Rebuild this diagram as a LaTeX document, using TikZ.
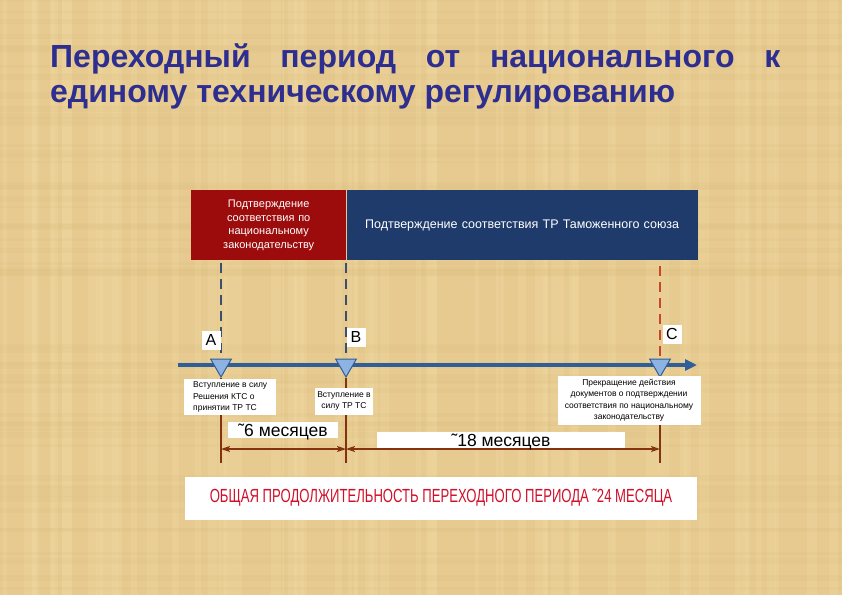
\documentclass[tikz,border=0pt]{standalone}
\usepackage{fontspec}
\setmainfont{Liberation Sans}
\setsansfont{Liberation Sans}
\usepackage{tikz}
\usetikzlibrary{
  shapes.geometric,
  arrows.meta,
  positioning,
  calc
}
\definecolor{bgtan}{HTML}{E6CA8F}
\definecolor{bglight}{HTML}{F0D9A2}
\definecolor{bgdark}{HTML}{D9B979}
\definecolor{titleblue}{HTML}{2E2E90}
\definecolor{natred}{HTML}{9C0C0C}
\definecolor{tcblue}{HTML}{1F3B6B}
\definecolor{lineblue}{HTML}{2F5E99}
\definecolor{markfill}{HTML}{8DB3E2}
\definecolor{guideblue}{HTML}{3A5070}
\definecolor{guidered}{HTML}{C8462B}
\definecolor{dimbrown}{HTML}{83330F}
\definecolor{totalred}{HTML}{D0102A}
\tikzset{
  titleline/.style = {anchor=base west, inner sep=0pt, text=titleblue,
                      font=\fontsize{32}{34}\selectfont\bfseries},
  phase/.style     = {anchor=north west, inner sep=0pt, text=white,
                      align=center, minimum height=70pt},
  guide/.style     = {dash pattern=on 10pt off 6pt, line width=1.6pt},
  timeline/.style  = {-{Triangle[length=12pt, width=11pt]}, line width=3.5pt, lineblue},
  marker/.style    = {regular polygon, regular polygon sides=3,
                      shape border rotate=180, minimum size=24pt, inner sep=0pt,
                      fill=markfill, draw=lineblue, line width=1pt},
  letter/.style    = {fill=white, inner sep=2pt, minimum width=19pt, minimum height=19pt,
                      font=\fontsize{16}{16}\selectfont},
  tick/.style      = {line width=1.3pt, dimbrown},
  span/.style      = {{Stealth[length=9pt, width=6pt, inset=2pt]}-{Stealth[length=9pt, width=6pt, inset=2pt]},
                      line width=1.6pt, dimbrown},
  note/.style      = {fill=white, inner sep=1pt, align=center,
                      font=\fontsize{8.5}{11.5}\selectfont},
  months/.style    = {fill=white, inner sep=2pt, text height=12pt, text depth=0pt,
                      minimum height=16pt, font=\fontsize{17.5}{18}\selectfont},
}

\begin{document}
\begin{tikzpicture}[x=1pt, y=-1pt]

    % background with a faint woven texture
    \fill[bgtan] (0,0) rectangle (842,595);
    \useasboundingbox (0,0) rectangle (842,595);
    \pgfmathsetseed{7}
    \foreach \i in {0,...,70} {
        \pgfmathsetmacro{\sx}{rnd*842}
        \pgfmathsetmacro{\sw}{2+rnd*9}
        \fill[bglight, opacity=0.35] (\sx,0) rectangle ++(\sw,595);
    }
    \foreach \i in {0,...,60} {
        \pgfmathsetmacro{\sy}{rnd*595}
        \pgfmathsetmacro{\sw}{1+rnd*6}
        \fill[bgdark, opacity=0.12] (0,\sy) rectangle ++(842,\sw);
    }

    % --- TITLE ---
    \node[titleline] (title1) at (50,67)
        {\makebox[730pt][s]{Переходный период от национального к}};
    \node[titleline] (title2) at (50,102) {единому техническому регулированию};

    % --- PHASE BAR ---
    \node[phase, fill=natred, minimum width=155pt, text width=150pt,
          font=\fontsize{11}{13.5}\selectfont] (natbox) at (191,190)
        {Подтверждение\\соответствия по\\национальному\\законодательству};
    \node[phase, fill=tcblue, minimum width=351pt, text width=345pt,
          font=\fontsize{12.5}{14}\selectfont] (tcbox) at (natbox.north east)
        {Подтверждение соответствия ТР Таможенного союза};

    % --- TIMELINE ---
    \coordinate (tlstart) at (178,365);
    \coordinate (tlend)   at (697,365);
    \draw[timeline] (tlstart) -- (tlend);

    \node[marker] (mkA) at (221,365) {};
    \node[marker] (mkB) at (346,365) {};
    \node[marker] (mkC) at (660,365) {};

    % dashed guides from the bar down to the markers
    \coordinate (gA) at (221,263);
    \coordinate (gB) at (346,263);
    \coordinate (gC) at (660,266);
    \draw[guide, guideblue] (gA) -- (mkA.north);
    \draw[guide, guideblue] (gB) -- (mkB.north);
    \draw[guide, guidered]  (gC) -- (mkC.north);

    \node[letter] (lblA) at (211,340) {A};
    \node[letter] (lblB) at (356,337) {B};
    \node[letter] (lblC) at (672,334) {C};

    % --- TICKS AND SPANS ---
    \coordinate (endA) at (221,463);
    \coordinate (endB) at (346,463);
    \coordinate (endC) at (660,463);
    \draw[tick] (mkA.south) -- (endA);
    \draw[tick] (mkB.south) -- (endB);
    \draw[tick] (mkC.south) -- (endC);

    \coordinate (spanA) at (221,449);
    \coordinate (spanB) at (346,449);
    \coordinate (spanC) at (660,449);
    \draw[span] (spanA) -- (spanB);
    \draw[span] (spanB) -- (spanC);

    % --- EVENT NOTES ---
    \node[note, align=left, anchor=north west, minimum width=92pt, minimum height=36pt] (noteA) at (184,379)
        {Вступление в силу\\Решения КТС о\\принятии ТР ТС};
    \node[note, minimum width=58pt, minimum height=27pt] (noteB) at (344,401)
        {Вступление в\\силу ТР ТС};
    \node[note, minimum width=143pt, minimum height=49pt] (noteC) at (629,400)
        {Прекращение действия\\документов о подтверждении\\соответствия по национальному\\законодательству};

    \node[months, minimum width=110pt] (sixm) at (283,430) {˜6 месяцев};
    \node[months, minimum width=248pt] (eighteenm) at (501,440) {˜18 месяцев};

    % --- TOTAL ---
    \node[fill=white, minimum width=512pt, minimum height=43pt, inner sep=0pt,
          text=totalred, font=\fontsize{19}{19}\selectfont] (total) at (441,498)
        {\scalebox{0.69}[1]{ОБЩАЯ ПРОДОЛЖИТЕЛЬНОСТЬ ПЕРЕХОДНОГО ПЕРИОДА ˜24 МЕСЯЦА}};

\end{tikzpicture}
\end{document}
